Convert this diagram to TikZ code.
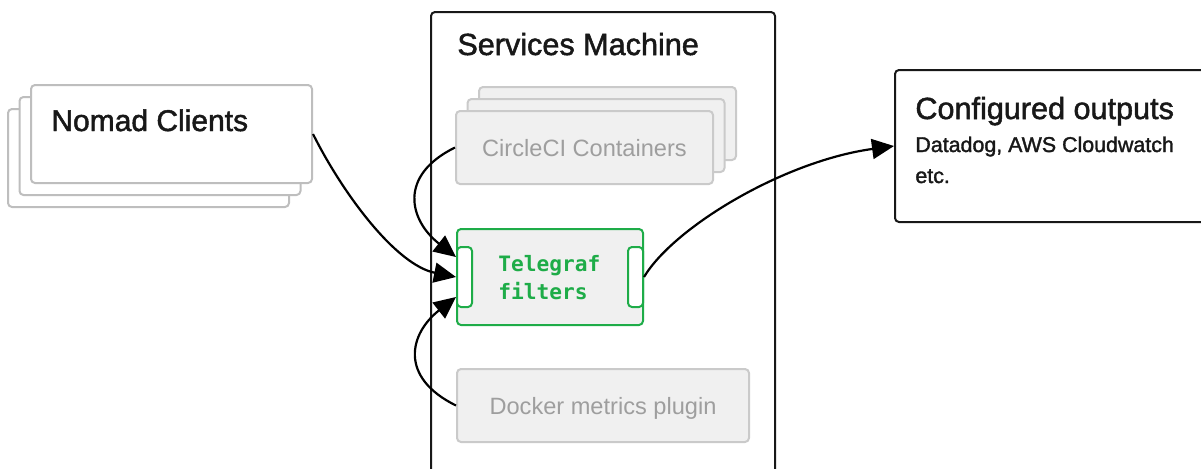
\documentclass[tikz,border=0pt]{standalone}
\usepackage{fontspec}
\setmainfont{Liberation Sans}
\newfontfamily\headfont[FakeBold=1.6]{Liberation Sans}
\setmonofont{DejaVu Sans Mono}
\usepackage{tikz}
\usetikzlibrary{arrows.meta,positioning,calc}
\definecolor{clientgrey}{RGB}{190,190,190}
\definecolor{panelgrey}{RGB}{240,240,240}
\definecolor{paleedge}{RGB}{202,202,202}
\definecolor{paletext}{RGB}{158,158,158}
\definecolor{telegreen}{RGB}{30,172,72}
\definecolor{inkblack}{RGB}{24,24,24}

\tikzset{
  client/.style={draw=clientgrey, line width=1pt, fill=white, rounded corners=2pt,
    minimum width=140.5pt, minimum height=49pt, inner sep=0pt},
  container/.style={draw=paleedge, line width=1pt, fill=panelgrey, rounded corners=2pt,
    minimum height=36.5pt, inner sep=0pt, text=paletext, font=\fontsize{11.8}{14}\selectfont},
  machine/.style={draw=inkblack, line width=1pt, rounded corners=2pt, inner sep=0pt},
  filterbox/.style={draw=telegreen, line width=1pt, fill=panelgrey, rounded corners=2pt,
    minimum width=93pt, minimum height=48pt, inner sep=0pt},
  port/.style={draw=telegreen, line width=1pt, fill=white, rounded corners=2pt,
    minimum width=7.5pt, minimum height=30pt, inner sep=0pt},
  heading/.style={anchor=base west, inner sep=0pt, text=inkblack},
  flow/.style={-{Triangle[length=11pt,width=10pt]}, line width=1.1pt, black}
}

\begin{document}
\begin{tikzpicture}[x=0.5pt, y=-0.5pt]
    \clip (0,0) rectangle (1201,468);

    % Nomad clients (stacked)
    \foreach \i/\dx/\dy in {3/-23/24, 2/-11.5/12}
        \node[client] (nomad\i) at (171.5+\dx,134+\dy) {};
    \node[client] (nomad) at (171.5,134) {};
    \node[heading, font=\headfont\fontsize{15}{17}\selectfont] (nomadtxt)
        at ($(nomad.north west)+(21,47)$) {Nomad Clients};

    % Services machine
    \node[machine, minimum width=172pt, minimum height=254pt] (services) at (603,266) {};
    \node[heading, font=\headfont\fontsize{15.3}{18}\selectfont] (servicestxt)
        at ($(services.north west)+(27,44)$) {Services Machine};

    % CircleCI containers (stacked)
    \foreach \i/\dx/\dy in {3/23/-24, 2/11.5/-12}
        \node[container, minimum width=128.5pt] (circle\i) at (584.5+\dx,147.5+\dy) {};
    \node[container, minimum width=128.5pt, text depth=-2pt] (circle) at (584.5,147.5) {CircleCI Containers};

    % Telegraf
    \node[filterbox] (telegraf) at (550,277) {};
    \node[port, anchor=west] (portin) at (telegraf.west) {};
    \node[port, anchor=east] (portout) at (telegraf.east) {};
    \node[anchor=west, inner sep=0pt, align=left, text=telegreen,
        font=\ttfamily\bfseries\fontsize{10.6}{14}\selectfont] (telegraftxt)
        at (498,278) {Telegraf\\filters};

    % Docker plugin
    \node[container, minimum width=146pt, text depth=-2pt] (docker) at (603,405.5) {Docker metrics plugin};

    % Outputs
    \node[machine, minimum width=170pt, minimum height=76pt] (outputs) at (1065,146) {};
    \node[heading, font=\headfont\fontsize{15.3}{18}\selectfont] (outputstxt)
        at ($(outputs.north west)+(21,50)$) {Configured outputs};
    \node[heading, align=left, font=\headfont\fontsize{10.7}{15.5}\selectfont] (outputsub)
        at ($(outputs.north west)+(21,114)$) {Datadog, AWS Cloudwatch\\etc.};

    % Flows
    \draw[flow] (nomad.east) .. controls +(30,60) and +(-60,-12) .. (telegraf.west);
    \draw[flow] (circle.west) .. controls +(-57,28) and +(-47,-37) .. (telegraf.168);
    \draw[flow] (docker.west) .. controls +(-57,-28) and +(-47,37) .. (telegraf.192);
    \draw[flow] (telegraf.east) .. controls +(30,-50) and +(-110,15) .. (outputs.west);
\end{tikzpicture}
\end{document}
